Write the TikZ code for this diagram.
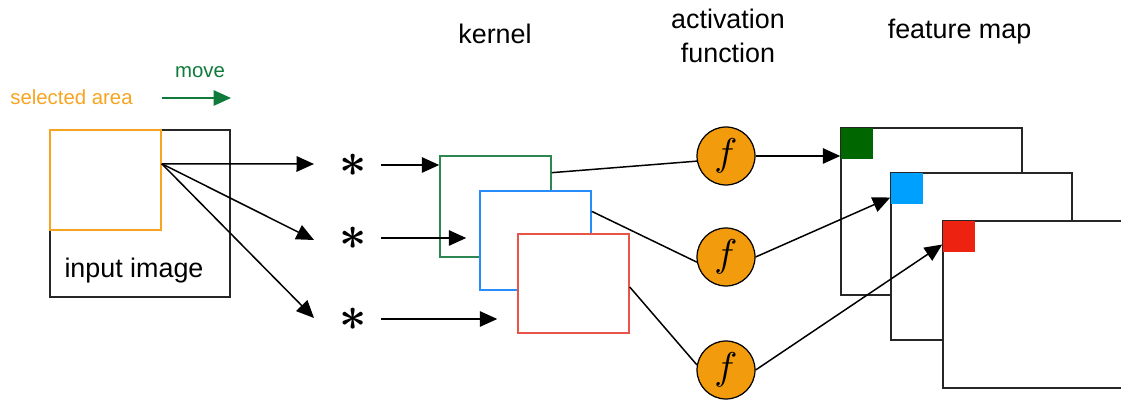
\documentclass[tikz,border=0pt]{standalone}
\usepackage{fontspec}
\setmainfont{Liberation Sans}
\usetikzlibrary{arrows.meta,calc,fit}

\definecolor{selorange}{RGB}{247,164,32}
\definecolor{movegreen}{RGB}{16,122,58}
\definecolor{kgreen}{RGB}{46,135,80}
\definecolor{kblue}{RGB}{40,140,250}
\definecolor{kred}{RGB}{232,84,72}
\definecolor{actorange}{RGB}{242,155,12}
\definecolor{sqgreen}{RGB}{0,102,0}
\definecolor{sqblue}{RGB}{0,160,255}
\definecolor{sqred}{RGB}{238,34,17}

\newcommand{\biglab}{\fontsize{15.3}{19.3}\selectfont}
\newcommand{\smalllab}{\fontsize{11.6}{14}\selectfont}
\newcommand{\convsym}{\scalebox{2.7}{\boldmath$\ast$}}

\begin{document}
\begin{tikzpicture}[x=0.02cm,y=-0.02cm,
  frame/.style={draw, line width=0.85pt, fill=white, inner sep=0pt},
  conn/.style={line width=0.85pt},
  arr/.style={line width=0.85pt, -{Triangle[length=3.5mm,width=3.1mm]}},
  actnode/.style={circle, draw, line width=0.7pt, fill=actorange, minimum size=1.16cm, inner sep=0pt},
  conv/.style={inner sep=0pt},
  patch/.style={anchor=north west, minimum width=0.64cm, minimum height=0.62cm, inner sep=0pt},
  lab/.style={font=\biglab, anchor=base},
  note/.style={font=\smalllab, anchor=base}]
\useasboundingbox (0,0) rectangle (1121,401);

% input image with the selected window
\node[frame, draw=black!85, fit={(50,130)(230,297)}] (inp) {};
\node[frame, draw=selorange, fit={(50,130)(161,230)}] (sel) {};
\node[lab] (inlab) at (134,278) {input image};
\node[note, text=selorange] (sellab) at (71.5,105) {selected area};
\node[note, text=movegreen] (movelab) at (200,78) {move};
\coordinate (mv0) at (162,98);
\coordinate (mv1) at (231,98);
\draw[arr, movegreen] (mv0) -- (mv1);

% convolution operators
\node[conv] (a1) at (353.5,165) {\convsym};
\node[conv] (a2) at (353.5,238) {\convsym};
\node[conv] (a3) at (353.5,319) {\convsym};

\coordinate (src) at ($(sel.north east)!0.34!(sel.south east)$);
\coordinate (t1) at (314,164);
\coordinate (t2) at (314,240);
\coordinate (t3) at (314,318);
\draw[arr] (src) -- (t1);
\draw[arr] (src) -- (t2);
\draw[arr] (src) -- (t3);

% kernels
\node[frame, draw=kgreen, fit={(440,156)(551,257)}] (kg) {};
\node[frame, draw=kblue, fit={(480,191)(591,290)}] (kb) {};
\node[frame, draw=kred, fit={(518,234)(629,333)}] (kr) {};
\node[lab] (klab) at (495,44) {kernel};

\draw[arr, shorten <=0.28cm] (a1) -- (a1 -| kg.west);
\draw[arr, shorten <=0.28cm, shorten >=0.26cm] (a2) -- (a2 -| kb.west);
\draw[arr, shorten <=0.28cm, shorten >=0.4cm] (a3) -- (a3 -| kr.west);

% activation functions
\node[actnode] (c1) at (726,156) {\scalebox{2.2}{$f$}};
\node[actnode] (c2) at (726,257) {\scalebox{2.2}{$f$}};
\node[actnode] (c3) at (726,370) {\scalebox{2.2}{$f$}};
\node[lab, align=center, anchor=center] (alab) at (728,36) {activation\\function};

\draw[conn] ($(kg.north east)!0.17!(kg.south east)$) -- (c1.190);
\draw[conn] ($(kb.north east)!0.21!(kb.south east)$) -- (c2.190);
\draw[conn] ($(kr.north east)!0.535!(kr.south east)$) -- (c3.170);

% feature maps
\node[frame, draw=black!85, fit={(841,128)(1022,295)}] (fm1) {};
\node[patch, fill=sqgreen] (p1) at (fm1.north west) {};
\node[frame, draw=black!85, fit={(891,173)(1072,340)}] (fm2) {};
\node[patch, fill=sqblue] (p2) at (fm2.north west) {};
\node[frame, draw=black!85, fit={(943,221)(1124,388)}] (fm3) {};
\node[patch, fill=sqred] (p3) at (fm3.north west) {};
\node[lab] (flab) at (959.5,39) {feature map};

\draw[arr] (c1) -- (c1 -| fm1.west);
\draw[arr] (c2.east) -- ($(fm2.north west)!0.15!(fm2.south west)$);
\draw[arr] (c3.east) -- ($(fm3.north west)!0.144!(fm3.south west)$);
\end{tikzpicture}
\end{document}
